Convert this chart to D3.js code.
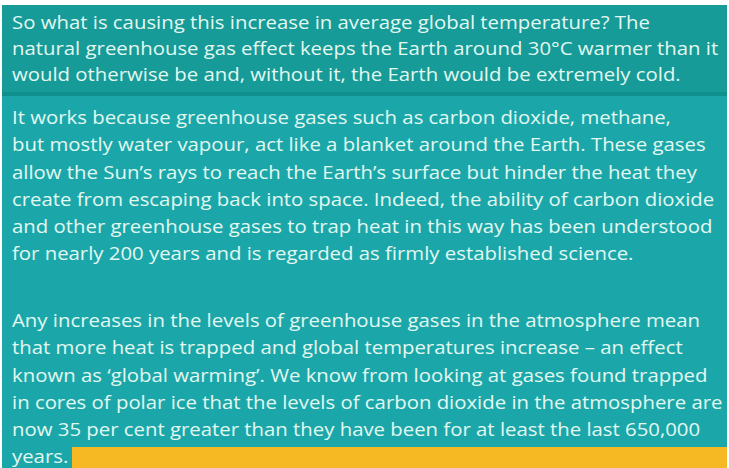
<!DOCTYPE html>
<html>
<head>
<meta charset="utf-8">
<script src="https://cdn.jsdelivr.net/npm/d3@7"></script>
<style>
  html, body { margin: 0; padding: 0; background: #ffffff; }
  svg { display: block; }
</style>
</head>
<body>
<div id="chart"></div>
<script>
// Texte du panneau, une ligne par entrée
const introLines = [
  "So what is causing this increase in average global temperature? The",
  "natural greenhouse gas effect keeps the Earth around 30°C warmer than it",
  "would otherwise be and, without it, the Earth would be extremely cold."
];

const mechanismLines = [
  "It works because greenhouse gases such as carbon dioxide, methane,",
  "but mostly water vapour, act like a blanket around the Earth. These gases",
  "allow the Sun’s rays to reach the Earth’s surface but hinder the heat they",
  "create from escaping back into space. Indeed, the ability of carbon dioxide",
  "and other greenhouse gases to trap heat in this way has been understood",
  "for nearly 200 years and is regarded as firmly established science."
];

const warmingLines = [
  "Any increases in the levels of greenhouse gases in the atmosphere mean",
  "that more heat is trapped and global temperatures increase – an effect",
  "known as ‘global warming’. We know from looking at gases found trapped",
  "in cores of polar ice that the levels of carbon dioxide in the atmosphere are",
  "now 35 per cent greater than they have been for at least the last 650,000",
  "years."
];

const width = 729, height = 468;

const svg = d3.select('#chart')
  .append('svg')
  .attr('width', width)
  .attr('height', height);

// Fonds
svg.append('rect')
  .attr('x', 2).attr('y', 5)
  .attr('width', 725).attr('height', 88)
  .style('fill', '#169b98');

svg.append('rect')
  .attr('x', 2).attr('y', 92)
  .attr('width', 725).attr('height', 4)
  .style('fill', '#10908c');

svg.append('rect')
  .attr('x', 2).attr('y', 96)
  .attr('width', 725).attr('height', height - 96)
  .style('fill', '#1ba7a9');

// Bandeau jaune à la fin du texte
svg.append('rect')
  .attr('x', 72).attr('y', 447)
  .attr('width', 655).attr('height', height - 447)
  .style('fill', '#f6b823');

// Échelles : index de ligne -> ligne de base
const lineStep = 27.3;
const introY = d3.scaleLinear().domain([0, 1]).range([29, 29 + 26]);
const mechanismY = d3.scaleLinear().domain([0, 1]).range([124, 124 + lineStep]);
const warmingY = d3.scaleLinear().domain([0, 1]).range([327, 327 + lineStep]);

// la police d'origine est plus large : on étire un peu à l'horizontale
const textLayer = svg.append('g')
  .attr('transform', 'translate(12,0) scale(1.1,1)');

function drawBlock(lines, yScale, cls) {
  textLayer.selectAll('text.' + cls)
    .data(lines)
    .enter()
    .append('text')
    .attr('class', cls)
    .attr('x', 0)
    .attr('y', (d, i) => yScale(i))
    .style('font-family', '"Open Sans", "Noto Sans", sans-serif')
    .style('font-size', '18.5px')
    .style('fill', '#e2f8f1')
    .text(d => d);
}

drawBlock(introLines, introY, 'intro');
drawBlock(mechanismLines, mechanismY, 'mechanism');
drawBlock(warmingLines, warmingY, 'warming');
</script>
</body>
</html>
